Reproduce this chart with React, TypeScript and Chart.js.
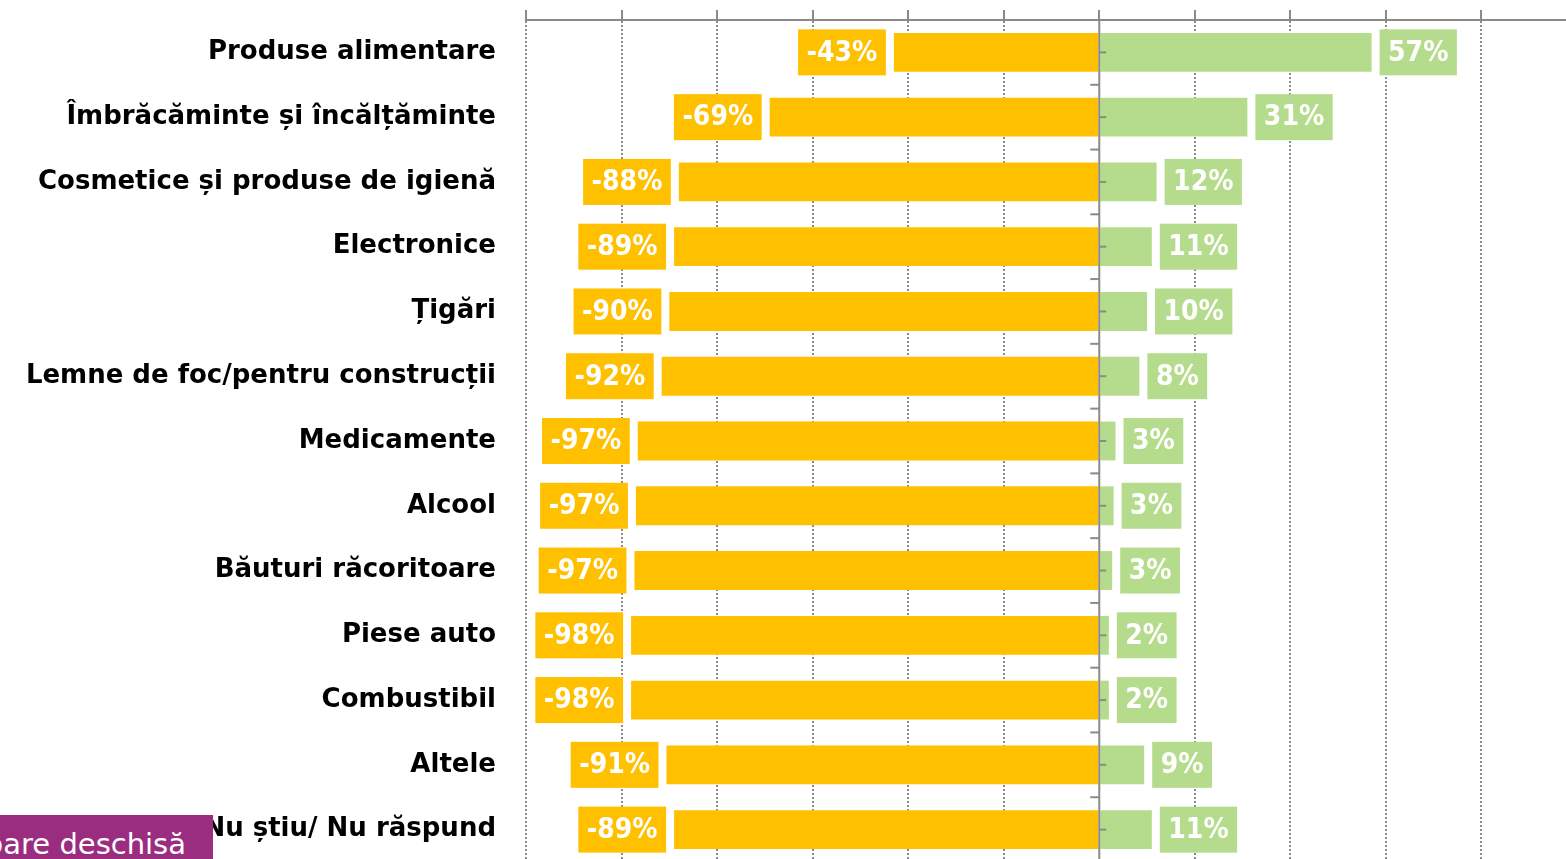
import React, { useEffect, useRef } from "react";
import { Chart, registerables } from "chart.js";

Chart.register(...registerables);

const categories = [
  "Produse alimentare",
  "Îmbrăcăminte și încălțăminte",
  "Cosmetice și produse de igienă",
  "Electronice",
  "Țigări",
  "Lemne de foc/pentru construcții",
  "Medicamente",
  "Alcool",
  "Băuturi răcoritoare",
  "Piese auto",
  "Combustibil",
  "Altele",
  "Nu știu/ Nu răspund",
];

const negativeValues = [-43, -69, -88, -89, -90, -91.6, -96.6, -97, -97.3, -98, -98, -90.6, -89];
const positiveValues = [57, 31, 12, 11, 10, 8.4, 3.4, 3, 2.7, 2, 2, 9.4, 11];

const xTickMin = -120;
const xTickMax = 100;
const xTickStep = 20;

const noteText = "Întrebare deschisă";

const ORANGE = "#FFC000";
const GREEN = "#B5DC8C";
const GRAY = "#8A8A8A";
const PURPLE = "#9B2D80";
const FONT = "'DejaVu Sans', sans-serif";
const LABEL_FONT = "'DejaVu Sans Condensed', 'DejaVu Sans', sans-serif";

const overlayPlugin = {
  id: "overlayPlugin",
  afterDatasetsDraw(chart: any) {
    const ctx = chart.ctx;
    const x = chart.scales.x;
    const area = chart.chartArea;
    const zeroX = x.getPixelForValue(0);
    ctx.save();
    // zero line
    ctx.strokeStyle = GRAY;
    ctx.lineWidth = 2;
    ctx.beginPath();
    ctx.moveTo(zeroX, area.top);
    ctx.lineTo(zeroX, area.bottom);
    ctx.stroke();
    const meta0 = chart.getDatasetMeta(0);
    const bars = meta0.data;
    // ticks on the zero line
    for (let i = 0; i < bars.length; i++) {
      const y = bars[i].y;
      ctx.beginPath();
      ctx.moveTo(zeroX, y);
      ctx.lineTo(zeroX + 7, y);
      ctx.stroke();
      if (i < bars.length - 1) {
        const yb = (bars[i].y + bars[i + 1].y) / 2;
        ctx.beginPath();
        ctx.moveTo(zeroX - 9, yb);
        ctx.lineTo(zeroX, yb);
        ctx.stroke();
      }
    }
    // value labels
    ctx.font = `bold 28px ${LABEL_FONT}`;
    ctx.textBaseline = "middle";
    ctx.textAlign = "center";
    chart.data.datasets.forEach((ds: any, di: number) => {
      const meta = chart.getDatasetMeta(di);
      meta.data.forEach((bar: any, i: number) => {
        const v = ds.data[i];
        const text = `${Math.round(v)}%`;
        const tw = ctx.measureText(text).width;
        const bw = tw + 17;
        const bh = 46;
        const gap = 8;
        let left;
        if (v < 0) {
          left = bar.x - gap - bw;
        } else {
          left = bar.x + gap;
        }
        ctx.fillStyle = ds.backgroundColor;
        ctx.fillRect(left, bar.y - bh / 2, bw, bh);
        ctx.fillStyle = "#FFFFFF";
        ctx.fillText(text, left + bw / 2, bar.y + 1);
      });
    });
    ctx.restore();
  },
};

export default function App() {
  const canvasRef = useRef<HTMLCanvasElement | null>(null);

  useEffect(() => {
    if (!canvasRef.current) return;
    const chart = new Chart(canvasRef.current, {
      type: "bar",
      data: {
        labels: categories,
        datasets: [
          {
            label: "neg",
            data: negativeValues,
            backgroundColor: ORANGE,
            borderWidth: 0,
          },
          {
            label: "pos",
            data: positiveValues,
            backgroundColor: GREEN,
            borderWidth: 0,
          },
        ],
      },
      options: {
        indexAxis: "y",
        responsive: false,
        animation: false,
        devicePixelRatio: 1,
        layout: { padding: { top: 10, left: 0, right: 0, bottom: 0 } },
        datasets: {
          bar: { categoryPercentage: 1, barPercentage: 0.6 },
        },
        plugins: {
          legend: { display: false },
          tooltip: { enabled: false },
          title: { display: false },
        },
        scales: {
          x: {
            type: "linear",
            position: "top",
            stacked: true,
            min: xTickMin,
            max: xTickMax,
            ticks: { display: false, stepSize: xTickStep },
            grid: {
              display: true,
              drawOnChartArea: true,
              drawTicks: true,
              tickLength: 10,
              lineWidth: 2,
              tickWidth: 2,
              tickColor: GRAY,
              color: (c: any) => (c.tick && c.tick.value === 0 ? "rgba(0,0,0,0)" : GRAY),
            },
            border: { display: true, color: GRAY, width: 2, dash: [2, 2] },
            afterFit: (s: any) => {
              s.paddingLeft = 0;
              s.paddingRight = 0;
            },
          },
          y: {
            type: "category",
            stacked: true,
            grid: { display: false, drawTicks: false },
            border: { display: false },
            ticks: {
              color: "#000000",
              padding: 30,
              font: { family: FONT, size: 26, weight: "bold" },
              autoSkip: false,
            },
            afterFit: (s: any) => {
              s.width = 526;
              s.paddingTop = 0;
              s.paddingBottom = 0;
            },
          },
        },
      },
      plugins: [overlayPlugin],
    });
    return () => chart.destroy();
  }, []);

  return (
    <div
      style={{
        position: "fixed",
        left: 0,
        top: 0,
        width: "100vw",
        height: "100vh",
        overflow: "hidden",
        background: "#FFFFFF",
      }}
    >
      <canvas
        ref={canvasRef}
        width={1577}
        height={862}
        style={{ position: "absolute", left: 0, top: 0, width: 1577, height: 862 }}
      />
      <div
        style={{
          position: "absolute",
          left: 0,
          top: 815,
          width: 213,
          height: 60,
          background: PURPLE,
          overflow: "hidden",
        }}
      >
        <span
          style={{
            position: "absolute",
            right: 27,
            top: 9,
            whiteSpace: "nowrap",
            color: "#FFFFFF",
            fontFamily: FONT,
            fontSize: 29,
            lineHeight: "40px",
          }}
        >
          {noteText}
        </span>
      </div>
    </div>
  );
}
